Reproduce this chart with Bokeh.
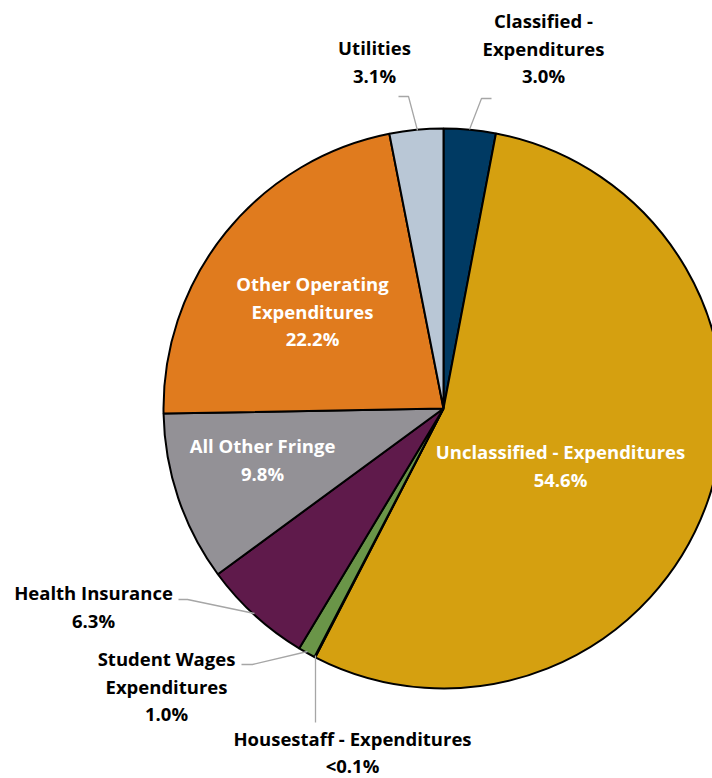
import math
from bokeh.plotting import figure
from bokeh.models import Range1d, ColumnDataSource
from bokeh.core.properties import value
from bokeh.embed import file_html
from bokeh.resources import INLINE

# ---- data ----
categories = ["Classified - Expenditures", "Unclassified - Expenditures",
              "Housestaff - Expenditures", "Student Wages Expenditures",
              "Health Insurance", "All Other Fringe",
              "Other Operating Expenditures", "Utilities"]
shares = [3.0, 54.6, 0.05, 1.0, 6.3, 9.8, 22.2, 3.1]
share_labels = ["3.0%", "54.6%", "<0.1%", "1.0%", "6.3%", "9.8%", "22.2%", "3.1%"]
colors = ["#003A63", "#D5A010", "#7A8F3A", "#6A9548", "#5F1A4B",
          "#939196", "#E07B1E", "#B9C7D6"]

W, H = 712, 778
CX, CY, R = 443, 408, 280
FONT = "Open Sans"
FS = "18.5px"


def Y(y):
    return H - y


p = figure(width=W, height=H, output_backend="svg", toolbar_location=None,
           x_range=Range1d(0, W), y_range=Range1d(0, H), min_border=0,
           outline_line_color=None, background_fill_color="white")
p.axis.visible = False
p.grid.visible = False

total = sum(shares)
starts, ends = [], []
acc = 0.0
for s in shares:
    a0 = math.pi / 2 - 2 * math.pi * acc / total
    acc += s
    a1 = math.pi / 2 - 2 * math.pi * acc / total
    starts.append(a0)
    ends.append(a1)

src = ColumnDataSource(dict(start=starts, end=ends, color=colors, cat=categories))
p.wedge(x=CX, y=Y(CY), radius=R, start_angle="start", end_angle="end",
        direction="clock", fill_color="color", line_color="black",
        line_width=2, source=src)

# ---- leader lines (layout) ----
leaders = [
    [(469, 129), (481, 98), (491, 98)],      # Classified
    [(417, 130), (408, 96), (398, 96)],      # Utilities
    [(254, 613), (187, 599), (178, 599)],    # Health Insurance
    [(307, 651), (252, 664), (241, 664)],    # Student Wages
    [(315, 655), (315, 722)],                # Housestaff
]
p.multi_line(xs=[[pt[0] for pt in l] for l in leaders],
             ys=[[Y(pt[1]) for pt in l] for l in leaders],
             line_color="#A6A6A6", line_width=1.3)

# ---- label layout: (category index, lines split, x, first-line y, colour, line height) ----
label_layout = [
    (0, ["Classified -", "Expenditures"], 543, 20, "#000000", 27.5),
    (1, ["Unclassified - Expenditures"], 560, 451, "white", 27.5),
    (2, ["Housestaff - Expenditures"], 352, 738, "#000000", 26.5),
    (3, ["Student Wages", "Expenditures"], 166, 658, "#000000", 27.5),
    (4, ["Health Insurance"], 93, 592, "#000000", 27.5),
    (5, ["All Other Fringe"], 262, 445, "white", 27.5),
    (6, ["Other Operating", "Expenditures"], 312, 283, "white", 27.5),
    (7, ["Utilities"], 374, 47, "#000000", 27.5),
]
tx, ty, tt, tc = [], [], [], []
for idx, lines, x, y0, col, lh in label_layout:
    all_lines = lines + [share_labels[idx]]
    for k, line in enumerate(all_lines):
        tx.append(x)
        ty.append(Y(y0 + k * lh))
        tt.append(line)
        tc.append(col)

p.text(x=tx, y=ty, text=tt, text_color=tc, text_font=value(FONT),
       text_font_style="bold", text_font_size=FS, text_align="center",
       text_baseline="middle")

open("out.html", "w").write(file_html(p, INLINE))
